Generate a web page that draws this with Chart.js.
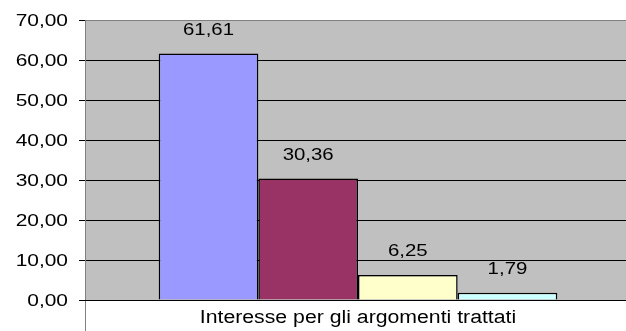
<!DOCTYPE html>
<html>
<head>
<meta charset="utf-8">
<script src="https://cdn.jsdelivr.net/npm/chart.js@4"></script>
<style>
  html, body { margin: 0; padding: 0; background: #fff; overflow: hidden; }
  #wrap { width: 632px; height: 331px; }
</style>
</head>
<body>
<div id="wrap"><canvas id="chart" width="632" height="331"></canvas></div>
<script>
// chart data
const categories = ["Interesse per gli argomenti trattati"]
const seriesValues = [61.61, 30.36, 6.25, 1.79]
const seriesColors = ["#9999FF", "#993366", "#FFFFCC", "#CCFFFF"]
const yTicks = [0, 10, 20, 30, 40, 50, 60, 70]

const fmt = (v) => v.toFixed(2).replace(".", ",")
const FAMILY = "'Liberation Sans', Arial, sans-serif"

// the original text is drawn wider than it is tall, so stretch it
function wideText(ctx, str, x, y, align, size, stretch) {
  ctx.save()
  ctx.font = `${size}px ${FAMILY}`
  ctx.fillStyle = "#000"
  ctx.textBaseline = "alphabetic"
  ctx.textAlign = align
  ctx.translate(x, y)
  ctx.scale(stretch, 1)
  ctx.fillText(str, 0, 0)
  ctx.restore()
}

// gray plot background + axis lines
const plotBg = {
  id: "plotBg",
  beforeDraw(chart) {
    const { ctx, chartArea: a } = chart
    ctx.save()
    ctx.fillStyle = "#C0C0C0"
    ctx.fillRect(a.left, a.top, a.right - a.left, a.bottom - a.top)
    ctx.restore()
  },
  afterDraw(chart) {
    const { ctx, chartArea: a } = chart
    ctx.save()
    ctx.strokeStyle = "#808080"
    ctx.lineWidth = 1
    ctx.beginPath()
    ctx.moveTo(a.left + 0.5, a.top)
    ctx.lineTo(a.left + 0.5, chart.height)
    ctx.stroke()
    ctx.strokeStyle = "#000"
    ctx.beginPath()
    ctx.moveTo(a.left, a.bottom + 0.5)
    ctx.lineTo(a.right, a.bottom + 0.5)
    ctx.stroke()
    ctx.restore()
  },
}

// tick labels and value labels
const labels = {
  id: "labels",
  afterDraw(chart) {
    const { ctx } = chart
    const y = chart.scales.y
    const x = chart.scales.x
    y.ticks.forEach((t) => {
      wideText(ctx, fmt(t.value), y.right - 17, y.getPixelForValue(t.value) + 6, "right", 17, 1.23)
    })
    categories.forEach((c, i) => {
      wideText(ctx, c, x.getPixelForValue(i), x.top + 23, "center", 18, 1.18)
    })
    chart.data.datasets.forEach((ds, i) => {
      const bar = chart.getDatasetMeta(i).data[0]
      wideText(ctx, fmt(ds.data[0]), bar.x, bar.y - 19, "center", 17, 1.2)
    })
  },
}

new Chart(document.getElementById("chart"), {
  type: "bar",
  data: {
    labels: categories,
    datasets: seriesValues.map((v, i) => ({
      data: [v],
      backgroundColor: seriesColors[i],
      borderColor: "#000",
      borderWidth: 1.5,
      barPercentage: 1,
      categoryPercentage: 0.73,
    })),
  },
  options: {
    responsive: false,
    animation: false,
    layout: { padding: { top: 20, right: 1, left: 0, bottom: 0 } },
    plugins: { legend: { display: false }, tooltip: { enabled: false } },
    scales: {
      x: {
        grid: { display: false },
        border: { display: false },
        ticks: { display: false },
        afterFit: (s) => { s.height = 31 },
      },
      y: {
        min: 0,
        max: 70,
        afterBuildTicks: (s) => { s.ticks = yTicks.map((v) => ({ value: v })) },
        ticks: { display: false },
        grid: {
          color: (c) => (c.tick && c.tick.value === 70 ? "#808080" : "#000"),
          tickColor: "#000",
          tickLength: 6,
          lineWidth: 1,
        },
        border: { display: false },
        afterFit: (s) => { s.width = 85 },
      },
    },
  },
  plugins: [plotBg, labels],
})
</script>
</body>
</html>
